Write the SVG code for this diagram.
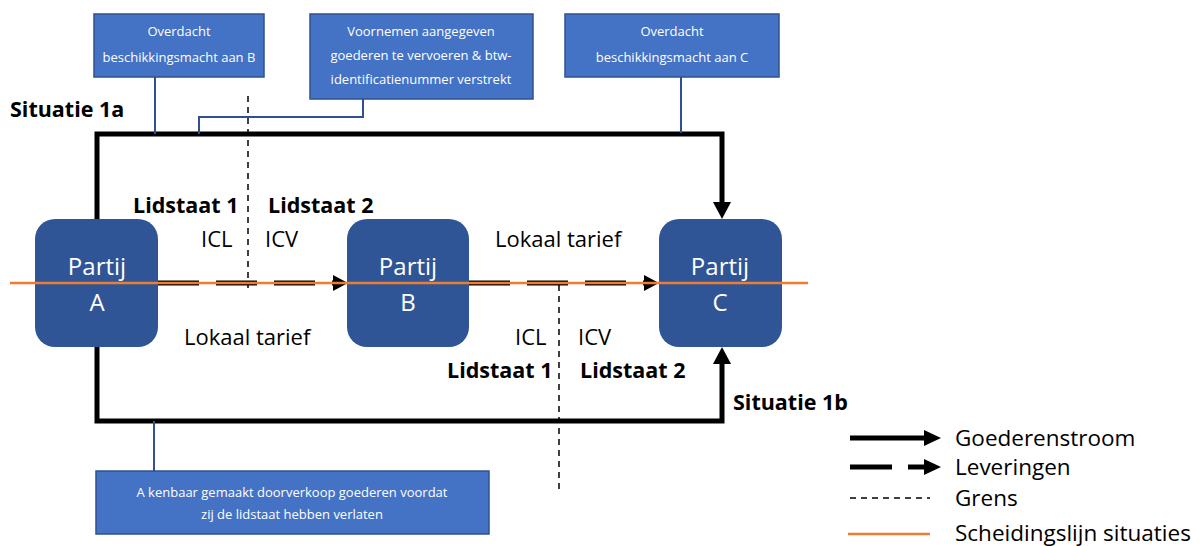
<svg xmlns="http://www.w3.org/2000/svg" width="1201" height="546" viewBox="0 0 1201 546">
  <style>
    text { font-family: "Open Sans", "Liberation Sans", sans-serif; font-variant-ligatures: none; }
    .note rect { fill: #4472C4; stroke: #2F528F; stroke-width: 1.5; }
    .note text { fill: #FFFFFF; font-size: 13px; text-anchor: middle; }
    .party rect { fill: #2F5597; }
    .party text { fill: #FFFFFF; font-size: 24px; text-anchor: middle; }
    .lbl { font-size: 22px; fill: #000; }
    .bold { font-size: 21.5px; font-weight: bold; fill: #000; }
    .flow { fill: none; stroke: #000; stroke-width: 5; }
    .deliv { fill: none; stroke: #000; stroke-width: 5; stroke-dasharray: 41 17; }
    .border { fill: none; stroke: #000; stroke-width: 1.5; stroke-dasharray: 6 5; }
    .link { fill: none; stroke: #2F528F; stroke-width: 2; }
    .sep { stroke: #ED7D31; stroke-width: 2.5; }
    .leg { font-size: 22.5px; fill: #000; }
  </style>

  <!-- connectors -->
  <g id="connectors">
    <!-- goods flow, situation 1a (top) and 1b (bottom) -->
    <path class="flow" d="M97,221 V134 H722 V203" />
    <path d="M713,202 L731,202 L722,219 z" fill="#000"/>
    <path class="flow" d="M97,347 V421 H722 V363" />
    <path d="M713,364 L731,364 L722,347 z" fill="#000"/>
    <!-- deliveries -->
    <path class="deliv" d="M158,283 H333" />
    <path d="M333,275 L348,283 L333,291 z" fill="#000"/>
    <path class="deliv" d="M469,283 H645" />
    <path d="M644,275 L659,283 L644,291 z" fill="#000"/>
    <!-- borders -->
    <line class="border" x1="248" y1="96" x2="248" y2="288"/>
    <line class="border" x1="559" y1="285" x2="559" y2="492"/>
    <!-- note links -->
    <path class="link" d="M155,77 V134" />
    <path class="link" d="M363,99 V117 H199 V134" />
    <path class="link" d="M681,77 V133" />
    <path class="link" d="M154,421 V471" />
  </g>

  <!-- notes -->
  <g id="note-b" class="note">
    <rect x="94" y="14" width="170" height="63"/>
    <text x="179" y="36">Overdacht</text>
    <text x="179" y="62">beschikkingsmacht aan B</text>
  </g>
  <g id="note-intent" class="note">
    <rect x="310" y="14" width="223" height="85"/>
    <text x="421" y="36">Voornemen aangegeven</text>
    <text x="421" y="60">goederen te vervoeren &amp; btw-</text>
    <text x="421" y="84">identificatienummer verstrekt</text>
  </g>
  <g id="note-c" class="note">
    <rect x="565" y="14" width="214" height="63"/>
    <text x="672" y="36">Overdacht</text>
    <text x="672" y="62">beschikkingsmacht aan C</text>
  </g>
  <g id="note-resale" class="note">
    <rect x="96" y="471" width="393" height="63"/>
    <text x="292" y="497">A kenbaar gemaakt doorverkoop goederen voordat</text>
    <text x="292" y="519">zij de lidstaat hebben verlaten</text>
  </g>

  <!-- parties -->
  <g id="party-a" class="party">
    <rect x="35" y="219" width="123" height="128" rx="20"/>
    <text x="97" y="275">Partij</text>
    <text x="97" y="311">A</text>
  </g>
  <g id="party-b" class="party">
    <rect x="347" y="219" width="122" height="128" rx="20"/>
    <text x="408" y="275">Partij</text>
    <text x="408" y="311">B</text>
  </g>
  <g id="party-c" class="party">
    <rect x="659" y="219" width="123" height="128" rx="20"/>
    <text x="720" y="275">Partij</text>
    <text x="720" y="311">C</text>
  </g>

  <!-- line separating situation 1a from 1b -->
  <line id="separator" class="sep" x1="10" y1="283" x2="808" y2="283"/>

  <!-- labels -->
  <g id="labels">
    <text class="bold" x="10" y="117">Situatie 1a</text>
    <text class="bold" x="133" y="213">Lidstaat 1</text>
    <text class="bold" x="268" y="213">Lidstaat 2</text>
    <text class="lbl" x="201" y="247">ICL</text>
    <text class="lbl" x="265" y="247">ICV</text>
    <text class="lbl" x="495" y="247">Lokaal tarief</text>
    <text class="lbl" x="184" y="345">Lokaal tarief</text>
    <text class="lbl" x="515" y="345">ICL</text>
    <text class="lbl" x="578" y="345">ICV</text>
    <text class="bold" x="447" y="378">Lidstaat 1</text>
    <text class="bold" x="580" y="378">Lidstaat 2</text>
    <text class="bold" x="733" y="410">Situatie 1b</text>
  </g>

  <!-- legend -->
  <g id="legend">
    <line class="flow" x1="850" y1="438" x2="925" y2="438"/>
    <path d="M924,430 L941,438 L924,446 z" fill="#000"/>
    <text class="leg" x="955" y="446">Goederenstroom</text>
    <line x1="850" y1="467" x2="892" y2="467" stroke="#000" stroke-width="5"/>
    <line x1="908" y1="467" x2="925" y2="467" stroke="#000" stroke-width="5"/>
    <path d="M924,459 L941,467 L924,475 z" fill="#000"/>
    <text class="leg" x="955" y="475">Leveringen</text>
    <line class="border" x1="850" y1="498" x2="930" y2="498"/>
    <text class="leg" x="955" y="506">Grens</text>
    <line class="sep" x1="848" y1="534" x2="930" y2="534"/>
    <text class="leg" x="955" y="541">Scheidingslijn situaties</text>
  </g>
</svg>
